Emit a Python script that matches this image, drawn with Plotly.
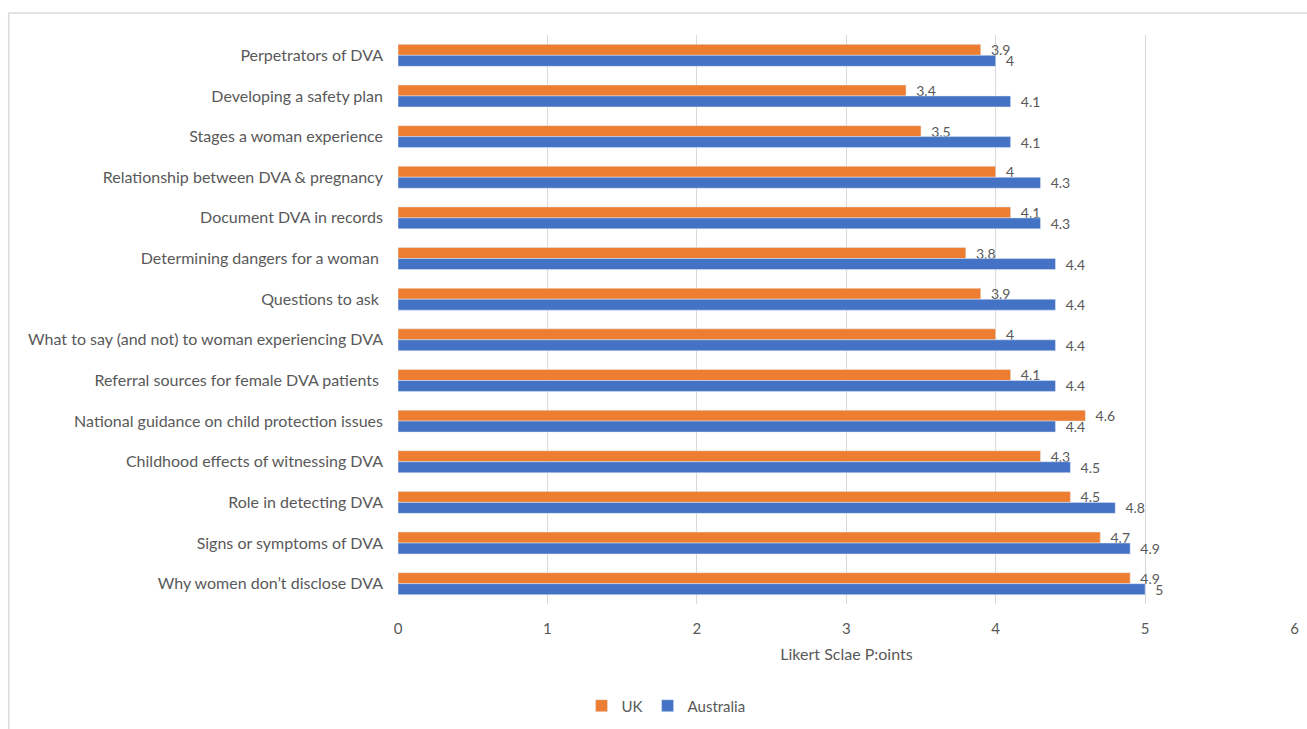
import plotly.graph_objects as go

categories = [
    "Perpetrators of DVA",
    "Developing a safety plan",
    "Stages a woman experience",
    "Relationship between DVA & pregnancy",
    "Document DVA in records",
    "Determining dangers for a woman ",
    "Questions to ask ",
    "What to say (and not) to woman experiencing DVA",
    "Referral sources for female DVA patients ",
    "National guidance on child protection issues",
    "Childhood effects of witnessing DVA",
    "Role in detecting DVA",
    "Signs or symptoms of DVA",
    "Why women don\u2019t disclose DVA",
]
uk = [3.9, 3.4, 3.5, 4, 4.1, 3.8, 3.9, 4, 4.1, 4.6, 4.3, 4.5, 4.7, 4.9]
australia = [4, 4.1, 4.1, 4.3, 4.3, 4.4, 4.4, 4.4, 4.4, 4.4, 4.5, 4.8, 4.9, 5]
x_ticks = [0, 1, 2, 3, 4, 5, 6]

FONT = "Lato"
GREY = "#595959"

fig = go.Figure()
fig.add_trace(go.Bar(
    y=categories, x=uk, name="UK", orientation="h",
    marker=dict(color="#ED7D31"),
    text=[f"  {v:g}" for v in uk], textposition="outside", constraintext="none",
    textfont=dict(family=FONT, size=14, color=GREY),
    cliponaxis=False,
))
fig.add_trace(go.Bar(
    y=categories, x=australia, name="Australia", orientation="h",
    marker=dict(color="#4472C4"),
    text=[f"  {v:g}" for v in australia], textposition="outside", constraintext="none",
    textfont=dict(family=FONT, size=14, color=GREY),
    cliponaxis=False,
))

fig.update_layout(
    width=1307, height=729,
    margin=dict(l=398, r=12, t=35, b=125, autoexpand=False),
    paper_bgcolor="white", plot_bgcolor="white",
    barmode="group", bargap=0.46, bargroupgap=0,
    font=dict(family=FONT, color=GREY),
    showlegend=True,
    legend=dict(orientation="h", xref="container", yref="container",
                x=0.5096, xanchor="center", y=0.0316, yanchor="middle",
                font=dict(family=FONT, size=15, color=GREY), itemwidth=30),
    xaxis=dict(range=[0, 6.003], tickvals=x_ticks, showgrid=True, gridcolor="#d9d9d9",
               gridwidth=1, zeroline=False, showline=False, ticklabelstandoff=14,
               ticklabeloverflow="allow", automargin=False,
               tickfont=dict(family=FONT, size=15, color=GREY),
               title=dict(text="Likert Sclae P:oints", standoff=12,
                          font=dict(family=FONT, size=16, color=GREY))),
    yaxis=dict(autorange="reversed", showgrid=False, zeroline=False, showline=False,
               automargin=False,
               tickfont=dict(family=FONT, size=16, color=GREY), ticklabelstandoff=14),
    shapes=[
        dict(type="line", xref="paper", yref="paper", x0=-0.4340, x1=1.02, y0=1.0387, y1=1.0387,
             line=dict(color="#d9d9d9", width=1.5)),
        dict(type="line", xref="paper", yref="paper", x0=-0.4340, x1=-0.4340, y0=1.0387, y1=-0.25,
             line=dict(color="#d9d9d9", width=1.5)),
    ],
)

fig.write_html("out.html", config={"displayModeBar": False},
               post_script="document.body.style.margin='0px';")
